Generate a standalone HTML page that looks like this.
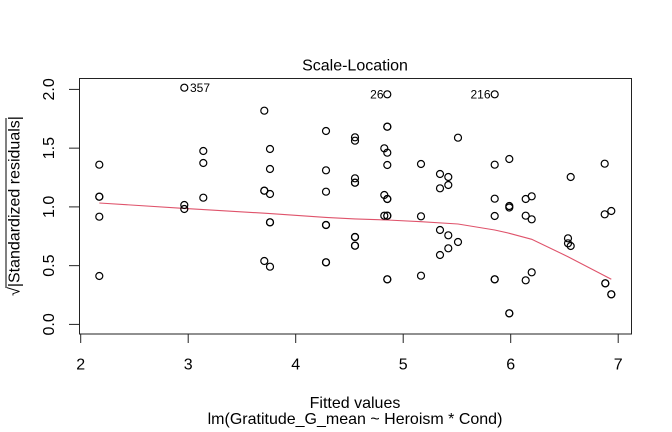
<!DOCTYPE html>
<html><head><meta charset="utf-8"><style>
html,body{margin:0;padding:0;background:#fff;}
svg{display:block;}
text{font-family:"Liberation Sans",Arial,sans-serif;fill:#000;}
</style></head><body>
<svg width="672" height="432" viewBox="0 0 672 432" xmlns="http://www.w3.org/2000/svg">
<rect width="672" height="432" fill="#fff"/>
<!-- box -->
<rect x="79.5" y="78.5" width="552" height="255.5" fill="none" stroke="#222" stroke-width="1"/>
<!-- x axis -->
<g stroke="#222" stroke-width="1" fill="none">
<line x1="80.7" y1="334" x2="618.2" y2="334"/>
<line x1="80.7" y1="334" x2="80.7" y2="343"/>
<line x1="188.2" y1="334" x2="188.2" y2="343"/>
<line x1="295.7" y1="334" x2="295.7" y2="343"/>
<line x1="403.2" y1="334" x2="403.2" y2="343"/>
<line x1="510.7" y1="334" x2="510.7" y2="343"/>
<line x1="618.2" y1="334" x2="618.2" y2="343"/>
<!-- y axis -->
<line x1="79.5" y1="89.4" x2="79.5" y2="324.4"/>
<line x1="69" y1="324.4" x2="79.5" y2="324.4"/>
<line x1="69" y1="265.65" x2="79.5" y2="265.65"/>
<line x1="69" y1="206.9" x2="79.5" y2="206.9"/>
<line x1="69" y1="148.15" x2="79.5" y2="148.15"/>
<line x1="69" y1="89.4" x2="79.5" y2="89.4"/>
</g>
<g font-size="16" text-anchor="middle">
<text x="80.7" y="369.5">2</text>
<text x="188.2" y="369.5">3</text>
<text x="295.7" y="369.5">4</text>
<text x="403.2" y="369.5">5</text>
<text x="510.7" y="369.5">6</text>
<text x="618.2" y="369.5">7</text>
<text transform="translate(54,324.4) rotate(-90)">0.0</text>
<text transform="translate(54,265.65) rotate(-90)">0.5</text>
<text transform="translate(54,206.9) rotate(-90)">1.0</text>
<text transform="translate(54,148.15) rotate(-90)">1.5</text>
<text transform="translate(54,89.4) rotate(-90)">2.0</text>
<text x="355" y="70.5">Scale-Location</text>
<text x="355" y="408">Fitted values</text>
<text x="355" y="424">lm(Gratitude_G_mean ~ Heroism * Cond)</text>
<text transform="translate(19.5,206) rotate(-90)">√|Standardized residuals|</text>
</g>
<line x1="6" y1="118" x2="6" y2="288" stroke="#000" stroke-width="1"/>
<!-- point labels -->
<g font-size="12">
<text x="190" y="92">357</text>
<text x="383.5" y="98.6" text-anchor="end">26</text>
<text x="490.5" y="98.6" text-anchor="end">216</text>
</g>
<!-- lowess -->
<polyline fill="none" stroke="#DF536B" stroke-width="1.1" points="99.3,203 184.3,208.4 203.3,209.6 264.3,213.2 270,213.6 326,217.4 355,218.9 387.3,220 421,221.7 458,224 494.7,230 509.3,233.3 531.7,239.3 568,256.7 611.3,279.3"/>
<!-- points -->
<g fill="none" stroke="#000" stroke-width="1.2">
<circle cx="184.3" cy="87.7" r="3.5"/>
<circle cx="99.3" cy="164.7" r="3.5"/>
<circle cx="99.3" cy="196.7" r="3.5"/><circle cx="99.3" cy="196.7" r="3.5"/>
<circle cx="99.3" cy="216.7" r="3.5"/>
<circle cx="99.3" cy="276" r="3.5"/>
<circle cx="184.3" cy="205" r="3.5"/>
<circle cx="184.3" cy="209" r="3.5"/>
<circle cx="203.3" cy="151" r="3.5"/>
<circle cx="203.3" cy="163" r="3.5"/>
<circle cx="203.3" cy="197.7" r="3.5"/>
<circle cx="264.3" cy="110.7" r="3.5"/>
<circle cx="270" cy="149" r="3.5"/>
<circle cx="270" cy="169" r="3.5"/>
<circle cx="264.3" cy="190.7" r="3.5"/><circle cx="264.3" cy="190.7" r="3.5"/>
<circle cx="270" cy="194" r="3.5"/>
<circle cx="270" cy="222.3" r="3.5"/><circle cx="270" cy="222.3" r="3.5"/>
<circle cx="264.3" cy="261" r="3.5"/>
<circle cx="270" cy="266.7" r="3.5"/>
<circle cx="326" cy="131" r="3.5"/>
<circle cx="326" cy="170.3" r="3.5"/>
<circle cx="326" cy="191.7" r="3.5"/>
<circle cx="326" cy="225" r="3.5"/><circle cx="326" cy="225" r="3.5"/>
<circle cx="326" cy="262.3" r="3.5"/><circle cx="326" cy="262.3" r="3.5"/>
<circle cx="387.3" cy="94.3" r="3.5"/>
<circle cx="494.7" cy="94.3" r="3.5"/>
<circle cx="387.3" cy="126.7" r="3.5"/><circle cx="387.3" cy="126.7" r="3.5"/>
<circle cx="355" cy="137.3" r="3.5"/>
<circle cx="355" cy="140.7" r="3.5"/>
<circle cx="384.3" cy="148.3" r="3.5"/>
<circle cx="387.3" cy="152.7" r="3.5"/>
<circle cx="387.3" cy="165" r="3.5"/>
<circle cx="421" cy="164" r="3.5"/>
<circle cx="458" cy="137.7" r="3.5"/>
<circle cx="355" cy="178.3" r="3.5"/>
<circle cx="355" cy="182.7" r="3.5"/><circle cx="355" cy="182.7" r="3.5"/>
<circle cx="384.3" cy="195" r="3.5"/>
<circle cx="387.3" cy="199" r="3.5"/><circle cx="387.3" cy="199" r="3.5"/>
<circle cx="355" cy="237" r="3.5"/><circle cx="355" cy="237" r="3.5"/>
<circle cx="355" cy="245.7" r="3.5"/><circle cx="355" cy="245.7" r="3.5"/>
<circle cx="384.3" cy="215.7" r="3.5"/>
<circle cx="387.3" cy="215.7" r="3.5"/><circle cx="387.3" cy="215.7" r="3.5"/>
<circle cx="387.3" cy="279.3" r="3.5"/><circle cx="387.3" cy="279.3" r="3.5"/>
<circle cx="421" cy="216.3" r="3.5"/>
<circle cx="421" cy="275.7" r="3.5"/>
<circle cx="440" cy="174" r="3.5"/>
<circle cx="448.3" cy="177" r="3.5"/>
<circle cx="440" cy="188.3" r="3.5"/>
<circle cx="448.3" cy="185" r="3.5"/>
<circle cx="440" cy="230" r="3.5"/>
<circle cx="448.3" cy="235.3" r="3.5"/>
<circle cx="458" cy="242" r="3.5"/>
<circle cx="448.3" cy="248.3" r="3.5"/>
<circle cx="440" cy="255" r="3.5"/>
<circle cx="494.7" cy="164.7" r="3.5"/>
<circle cx="509.3" cy="159" r="3.5"/>
<circle cx="494.7" cy="198.7" r="3.5"/>
<circle cx="509.3" cy="206" r="3.5"/>
<circle cx="509.3" cy="207.5" r="3.5"/>
<circle cx="494.7" cy="216" r="3.5"/>
<circle cx="525.7" cy="199" r="3.5"/>
<circle cx="531.7" cy="196.3" r="3.5"/>
<circle cx="525.7" cy="215.7" r="3.5"/>
<circle cx="531.7" cy="219.3" r="3.5"/>
<circle cx="494.7" cy="279.3" r="3.5"/><circle cx="494.7" cy="279.3" r="3.5"/>
<circle cx="509.3" cy="313.3" r="3.5"/><circle cx="509.3" cy="313.3" r="3.5"/>
<circle cx="525.7" cy="280.3" r="3.5"/>
<circle cx="531.7" cy="272.3" r="3.5"/>
<circle cx="570.7" cy="177" r="3.5"/>
<circle cx="568" cy="238.3" r="3.5"/>
<circle cx="568" cy="243.3" r="3.5"/>
<circle cx="570.7" cy="246" r="3.5"/>
<circle cx="604.7" cy="163.7" r="3.5"/>
<circle cx="604.7" cy="214.3" r="3.5"/>
<circle cx="611.3" cy="211" r="3.5"/>
<circle cx="605.3" cy="283.3" r="3.5"/><circle cx="605.3" cy="283.3" r="3.5"/>
<circle cx="611.3" cy="294.3" r="3.5"/><circle cx="611.3" cy="294.3" r="3.5"/>
</g>
</svg>
</body></html>
